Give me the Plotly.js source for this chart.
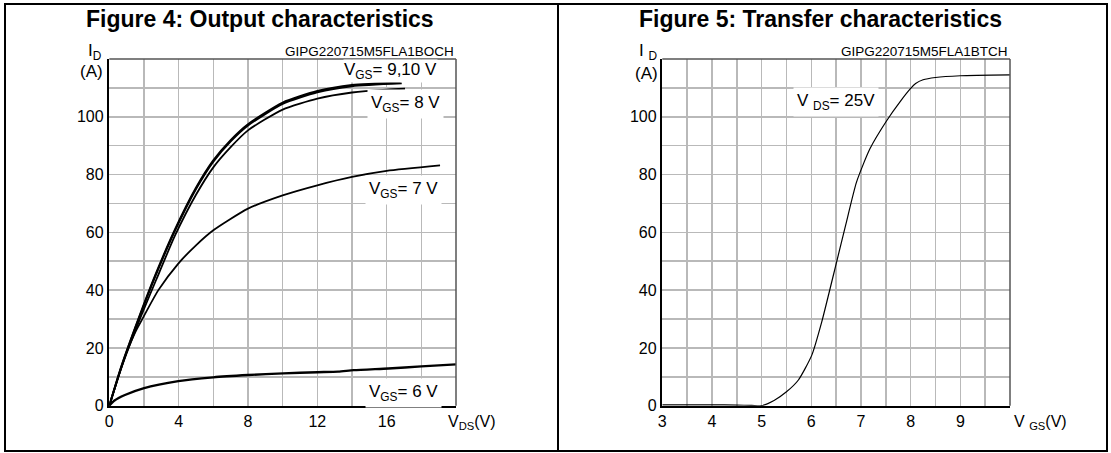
<!DOCTYPE html>
<html>
<head>
<meta charset="utf-8">
<script src="https://cdn.plot.ly/plotly-3.0.1.min.js"></script>
<style>html,body{margin:0;padding:0;background:#fff;}#chart{width:1111px;height:453px;}</style>
</head>
<body>
<div id="chart"></div>
<script>
// ---- Figure 4: Output characteristics (ID vs VDS) ----
const vds10 = [0, 0.7, 1.67, 2.64, 3.79, 5.0, 6.0, 7.0, 8.0, 10.0, 12.0, 14.0, 16.8];
const id10  = [0, 13.7, 29.9, 45.0, 61.0, 75.4, 84.9, 91.9, 97.4, 104.9, 108.9, 111.0, 111.9];
const vds9  = [0, 0.7, 1.67, 2.64, 3.79, 5.0, 6.0, 7.0, 8.0, 10.0, 12.0, 14.0, 16.87];
const id9   = [0, 13.5, 29.6, 44.6, 60.6, 75.0, 84.5, 91.5, 97.0, 104.5, 108.5, 110.6, 111.6];
const vds8  = [0, 0.7, 1.7, 2.7, 3.8, 5.0, 6.0, 7.0, 8.0, 10.0, 12.0, 14.0, 16.0, 17.06];
const id8   = [0, 13.2, 29.0, 43.5, 59.0, 73.0, 82.5, 89.5, 95.3, 102.5, 106.3, 108.4, 109.4, 109.7];
const vds7  = [0, 0.5, 1.0, 1.5, 1.77, 2.83, 3.98, 5.0, 6.0, 8.0, 10.0, 12.0, 14.0, 16.0, 19.08];
const id7   = [0, 9.5, 18.5, 25.5, 28.5, 40.0, 49.2, 55.5, 60.7, 68.2, 72.8, 76.3, 79.2, 81.3, 83.2];
const vds6  = [0, 0.3, 0.9, 1.96, 3.98, 6.0, 8.02, 10.04, 12.0, 13.2, 14.1, 16.1, 18.0, 20.0];
const id6   = [0, 1.8, 3.7, 6.0, 8.5, 9.8, 10.6, 11.2, 11.6, 11.8, 12.3, 12.9, 13.6, 14.3];

// ---- Figure 5: Transfer characteristics (ID vs VGS at VDS = 25 V) ----
const vgsT = [3, 3.5, 4, 4.5, 4.8, 5.0, 5.25, 5.5, 5.74, 6.01, 6.21, 6.51, 6.69, 6.91, 7.18, 7.52, 7.8, 8.0, 8.1, 8.25, 8.5, 9.0, 10];
const idT  = [0.3, 0.3, 0.3, 0.2, 0.1, 0, 1.8, 4.8, 8.9, 17.5, 29.0, 49.8, 62.4, 77.4, 88.9, 98.7, 105.5, 109.8, 111.5, 112.8, 113.6, 114.2, 114.5];

// ---- tick labels ----
const yTickVals = [0, 10, 20, 30, 40, 50, 60, 70, 80, 90, 100, 110];
const yTickText = ['0', '', '20', '', '40', '', '60', '', '80', '', '100', ''];
const x1TickVals = [0, 2, 4, 6, 8, 10, 12, 14, 16, 18];
const x1TickText = ['0', '', '4', '', '8', '', '12', '', '16', ''];
const x2TickVals = [3, 3.5, 4, 4.5, 5, 5.5, 6, 6.5, 7, 7.5, 8, 8.5, 9, 9.5];
const x2TickText = ['3', '', '4', '', '5', '', '6', '', '7', '', '8', '', '9', ''];

const seriesLabels = ['V<sub>GS</sub>= 9,10 V', 'V<sub>GS</sub>= 8 V', 'V<sub>GS</sub>= 7 V', 'V<sub>GS</sub>= 6 V', 'V <sub>DS</sub>= 25V'];

const W = 1111, H = 453;
const fx = p => p / W;
const fy = p => 1 - p / H;
const FONT = '"Liberation Sans", Arial, sans-serif';

function line(x, y, w, xa, ya) {
  return {x: x, y: y, xaxis: xa, yaxis: ya, type: 'scatter', mode: 'lines',
          line: {color: '#000', width: w, shape: 'spline', smoothing: 0.6},
          hoverinfo: 'skip', showlegend: false};
}

const data = [
  line(vds6, id6, 2.4, 'x', 'y'),
  line(vds7, id7, 1.8, 'x', 'y'),
  line(vds8, id8, 1.8, 'x', 'y'),
  line(vds9, id9, 2.0, 'x', 'y'),
  line(vds10, id10, 2.0, 'x', 'y'),
  line(vgsT, idT, 1.2, 'x2', 'y2')
];

const gridCol = '#b9b9b9';
function xax(dom, rng, tv, tt, anchor) {
  return {domain: dom, range: rng, anchor: anchor, tickvals: tv, ticktext: tt,
          showgrid: true, gridcolor: gridCol, gridwidth: 1.5, zeroline: false,
          showline: true, linecolor: '#000', linewidth: 2.5, ticks: '',
          tickfont: {family: FONT, size: 16, color: '#000'}, fixedrange: true};
}
function yax(anchor) {
  return {domain: [fy(405.7), fy(59)], range: [0, 120], anchor: anchor,
          tickvals: yTickVals, ticktext: yTickText,
          showgrid: true, gridcolor: gridCol, gridwidth: 1.5, zeroline: false,
          showline: true, linecolor: '#000', linewidth: 2.5, ticks: '',
          tickfont: {family: FONT, size: 16, color: '#000'}, fixedrange: true};
}

function ann(text, x, y, size, opts) {
  return Object.assign({text: text, x: fx(x), y: fy(y), xref: 'paper', yref: 'paper',
    showarrow: false, xanchor: 'center', yanchor: 'middle',
    font: {family: FONT, size: size, color: '#000'}}, opts || {});
}

const labelBox = {bgcolor: '#fff', borderpad: 3};

const annotations = [
  ann('<b>Figure 4: Output characteristics</b>', 260, 19, 23),
  ann('<b>Figure 5: Transfer characteristics</b>', 820, 19, 23),
  ann('GIPG220715M5FLA1BOCH', 456, 51, 13.5, {xanchor: 'right'}),
  ann('GIPG220715M5FLA1BTCH', 1010, 51, 13.5, {xanchor: 'right'}),
  ann('I<sub>D</sub>', 104, 52, 17, {xanchor: 'right'}),
  ann('(A)', 105, 71, 17, {xanchor: 'right'}),
  ann('I <sub>D</sub>', 659, 52, 17, {xanchor: 'right'}),
  ann('(A)', 660, 74, 17, {xanchor: 'right'}),
  ann('V<sub>DS</sub>(V)', 446, 422, 16, {xanchor: 'left'}),
  ann('V <sub>GS</sub>(V)', 1012, 422, 16, {xanchor: 'left'}),
  ann(seriesLabels[0], 390, 71, 17, {bgcolor: '#fff', borderpad: 0}),
  ann(seriesLabels[1], 405, 104, 17, labelBox),
  ann(seriesLabels[2], 403, 190, 17, labelBox),
  ann(seriesLabels[3], 403, 393, 17, labelBox),
  ann(seriesLabels[4], 836, 102, 17, labelBox)
];

const shapes = [
  {type: 'rect', xref: 'paper', yref: 'paper', x0: fx(5), x1: fx(1107), y0: fy(451), y1: fy(4),
   line: {color: '#000', width: 2}},
  {type: 'line', xref: 'paper', yref: 'paper', x0: fx(558), x1: fx(558), y0: fy(451), y1: fy(4),
   line: {color: '#000', width: 2}},
  // top & right plot borders
  {type: 'line', xref: 'x domain', yref: 'y domain', x0: 0, x1: 1, y0: 1, y1: 1, line: {color: '#555', width: 1.5}},
  {type: 'line', xref: 'x domain', yref: 'y domain', x0: 1, x1: 1, y0: 0, y1: 1, line: {color: '#555', width: 1.5}},
  {type: 'line', xref: 'x2 domain', yref: 'y2 domain', x0: 0, x1: 1, y0: 1, y1: 1, line: {color: '#555', width: 1.5}},
  {type: 'line', xref: 'x2 domain', yref: 'y2 domain', x0: 1, x1: 1, y0: 0, y1: 1, line: {color: '#555', width: 1.5}}
];

const layout = {
  width: W, height: H,
  margin: {l: 0, r: 0, t: 0, b: 0},
  paper_bgcolor: '#fff', plot_bgcolor: '#fff',
  showlegend: false,
  font: {family: FONT, color: '#000'},
  xaxis: xax([fx(109.3), fx(456)], [0, 20], x1TickVals, x1TickText, 'y'),
  yaxis: yax('x'),
  xaxis2: xax([fx(662.3), fx(1010)], [3, 10], x2TickVals, x2TickText, 'y2'),
  yaxis2: yax('x2'),
  annotations: annotations,
  shapes: shapes
};

Plotly.newPlot('chart', data, layout, {staticPlot: true, displayModeBar: false});
</script>
</body>
</html>
